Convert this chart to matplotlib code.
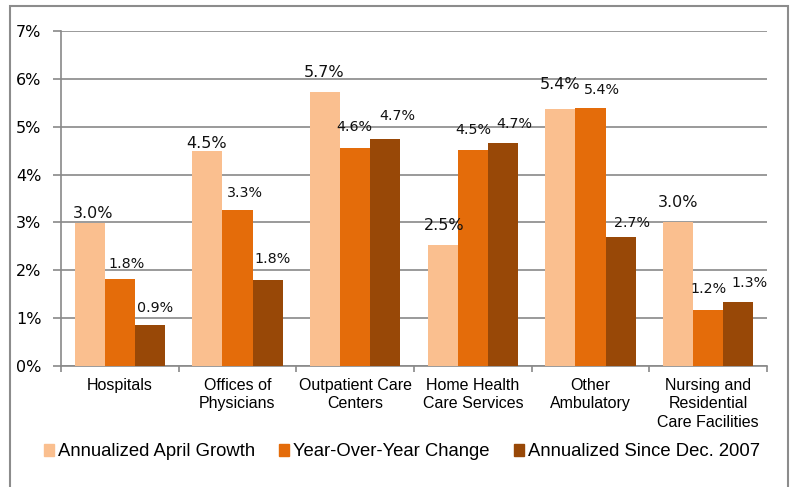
import numpy as np
import matplotlib
matplotlib.use("Agg")
import matplotlib.pyplot as plt
from matplotlib.patches import Rectangle, Patch

categories = ["Hospitals", "Offices of\nPhysicians", "Outpatient Care\nCenters",
              "Home Health\nCare Services", "Other\nAmbulatory",
              "Nursing and\nResidential\nCare Facilities"]
series_names = ["Annualized April Growth", "Year-Over-Year Change",
                "Annualized Since Dec. 2007"]
april_growth = [3.0, 4.5, 5.7, 2.5, 5.4, 3.0]
yoy_change = [1.8, 3.3, 4.6, 4.5, 5.4, 1.2]
since_2007 = [0.9, 1.8, 4.7, 4.7, 2.7, 1.3]
april_shown = [2.98, 4.50, 5.72, 2.53, 5.38, 3.00]
yoy_shown = [1.81, 3.26, 4.56, 4.51, 5.40, 1.16]
since_shown = [0.86, 1.80, 4.74, 4.67, 2.70, 1.34]

colors = ["#FABF8F", "#E46C0A", "#984807"]
grid_c = "#898989"

# label offsets in pixels (dx, dy) from bar top centre to text baseline
label_offsets = [
    [(3, 5), (-1, 3), (-1, 15), (1, 15), (0, 20), (0, 15)],
    [(7, 11), (7, 13), (-1, 17), (0, 16), (11, 14), (0, 17)],
    [(5, 13), (5, 17), (12, 19), (11, 15), (11, 10), (11, 15)],
]
label_sizes = [11.5, 10.3, 10.3]

fig = plt.figure(figsize=(7.91, 4.87), dpi=100)
ax = fig.add_axes([61 / 791, 1 - 366 / 487, (767 - 61) / 791, (366 - 31) / 487])

x = np.arange(len(categories))
w = 0.255
shown = [april_shown, yoy_shown, since_shown]
labels = [april_growth, yoy_change, since_2007]
for i in range(3):
    bars = ax.bar(x + (i - 1) * w, shown[i], w, color=colors[i],
                  label=series_names[i], zorder=3)
    for j, b in enumerate(bars):
        dx, dy = label_offsets[i][j]
        ax.annotate(f"{labels[i][j]:.1f}%", (b.get_x() + b.get_width() / 2, b.get_height()),
                    xytext=(dx, dy), textcoords="offset pixels", ha="center",
                    va="baseline", fontsize=label_sizes[i], family="DejaVu Sans",
                    color="#111111", zorder=4)

ax.set_xlim(-0.5, 5.5)
ax.set_ylim(0, 7)
ax.set_yticks(range(8))
ax.set_yticklabels([f"{v}%" for v in range(8)], fontsize=11.5, family="DejaVu Sans")
ax.yaxis.grid(True, color=grid_c, linewidth=1.2, zorder=0)
ax.tick_params(axis="y", length=6, width=1.2, color=grid_c, pad=8)

ax.set_xticks(np.arange(-0.5, 6, 1))
ax.set_xticklabels([])
ax.tick_params(axis="x", which="major", length=4, width=1.2, color=grid_c)
ax.set_xticks(x, minor=True)
ax.set_xticklabels(categories, minor=True, fontsize=11.5, family="Liberation Sans",
                   linespacing=1.3)
ax.tick_params(axis="x", which="minor", length=0, pad=8.5)

for s in ["top", "right"]:
    ax.spines[s].set_visible(False)
for s in ["left", "bottom"]:
    ax.spines[s].set_color(grid_c)
    ax.spines[s].set_linewidth(1.2)

handles = [Patch(color=c) for c in colors]
fig.legend(handles, series_names, loc="center", bbox_to_anchor=(402 / 791, 1 - 452 / 487),
           ncol=3, frameon=False, prop={"family": "Liberation Sans", "size": 13.3},
           handlelength=0.55, handleheight=0.55, handletextpad=0.22, columnspacing=1.3)

fig.add_artist(Rectangle((10 / 791, -0.05), 778 / 791, 1.05 - 6 / 487,
                         transform=fig.transFigure, fill=False,
                         edgecolor="#8c8c8c", linewidth=1.5))

fig.savefig("out.png", dpi=100)
